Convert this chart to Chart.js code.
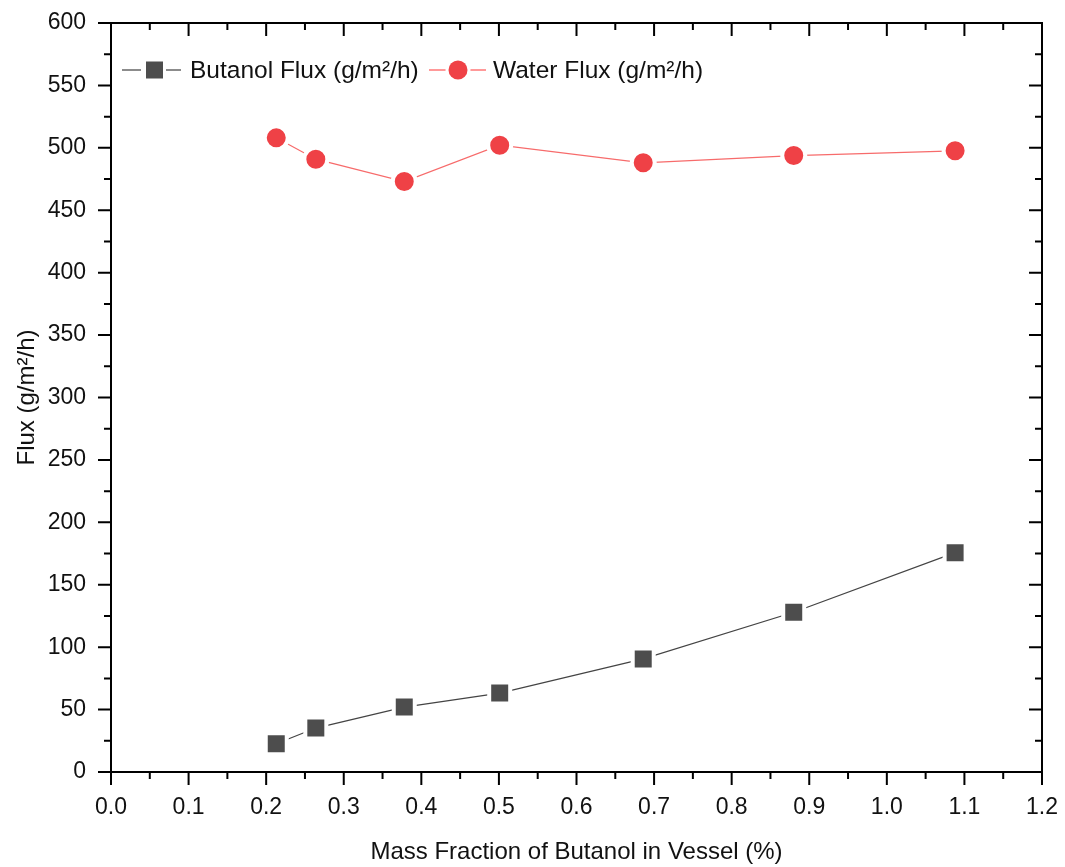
<!DOCTYPE html>
<html>
<head>
<meta charset="utf-8">
<script src="https://cdn.jsdelivr.net/npm/chart.js@4.4.0/dist/chart.umd.min.js"></script>
<style>
  html, body { margin: 0; padding: 0; background: #fff; }
  #wrap { width: 1065px; height: 867px; }
</style>
</head>
<body>
<div id="wrap"><canvas id="fluxChart" width="1065" height="867"></canvas></div>
<script>
// mass fraction of butanol in vessel (%)
const massFraction = [0.213, 0.264, 0.378, 0.501, 0.686, 0.880, 1.088];
// fluxes (g/m2/h)
const butanolFlux = [22.6, 35.2, 52.0, 63.2, 90.6, 128.0, 175.7];
const waterFlux = [508.0, 490.9, 473.0, 502.1, 488.0, 493.8, 497.6];
const seriesNames = ['Butanol Flux (g/m\u00B2/h)', 'Water Flux (g/m\u00B2/h)'];
const xTicks = [0, 0.1, 0.2, 0.3, 0.4, 0.5, 0.6, 0.7, 0.8, 0.9, 1.0, 1.1, 1.2];
const yTicks = [0, 50, 100, 150, 200, 250, 300, 350, 400, 450, 500, 550, 600];

const FONT = '"Liberation Sans", Arial, sans-serif';
const GREY = '#4d4d4d';
const RED = '#ef4146';

function toPoints(xs, ys) {
    return xs.map(function (x, i) { return { x: x, y: ys[i] }; });
}

// Origin-style frame: axes on all four sides with major/minor ticks
const framePlugin = {
    id: 'frame',
    afterDraw: function (chart) {
        const ctx = chart.ctx;
        const a = chart.chartArea;
        const xs = chart.scales.x;
        const ys = chart.scales.y;
        ctx.save();
        ctx.strokeStyle = '#000';
        ctx.lineWidth = 2;
        ctx.beginPath();
        ctx.rect(a.left, a.top, a.right - a.left, a.bottom - a.top);
        ctx.stroke();

        ctx.beginPath();
        for (let i = 0; i < xTicks.length; i++) {
            const px = xs.getPixelForValue(xTicks[i]);
            ctx.moveTo(px, a.bottom); ctx.lineTo(px, a.bottom + 13);
            ctx.moveTo(px, a.top); ctx.lineTo(px, a.top + 13);
            if (i < xTicks.length - 1) {
                const mx = xs.getPixelForValue(xTicks[i] + 0.05);
                ctx.moveTo(mx, a.bottom); ctx.lineTo(mx, a.bottom + 7);
                ctx.moveTo(mx, a.top); ctx.lineTo(mx, a.top + 7);
            }
        }
        for (let i = 0; i < yTicks.length; i++) {
            const py = ys.getPixelForValue(yTicks[i]);
            ctx.moveTo(a.left, py); ctx.lineTo(a.left - 13, py);
            ctx.moveTo(a.right, py); ctx.lineTo(a.right - 13, py);
            if (i < yTicks.length - 1) {
                const my = ys.getPixelForValue(yTicks[i] + 25);
                ctx.moveTo(a.left, my); ctx.lineTo(a.left - 7, my);
                ctx.moveTo(a.right, my); ctx.lineTo(a.right - 7, my);
            }
        }
        ctx.stroke();

        // legend, top-left inside the plot
        const ly = 70;
        ctx.lineWidth = 1.5;
        ctx.font = '24.5px ' + FONT;
        ctx.textBaseline = 'middle';
        ctx.textAlign = 'left';

        ctx.strokeStyle = '#666';
        ctx.beginPath();
        ctx.moveTo(122, ly); ctx.lineTo(181, ly);
        ctx.stroke();
        ctx.fillStyle = '#fff';
        ctx.fillRect(141, ly - 12.5, 25, 25);
        ctx.fillStyle = GREY;
        ctx.fillRect(146, ly - 8.5, 17, 17);
        ctx.fillStyle = '#111';
        ctx.fillText(seriesNames[0], 190, ly + 1);

        ctx.strokeStyle = '#f77';
        ctx.beginPath();
        ctx.moveTo(429, ly); ctx.lineTo(486, ly);
        ctx.stroke();
        ctx.fillStyle = '#fff';
        ctx.beginPath(); ctx.arc(458, ly, 12.5, 0, Math.PI * 2); ctx.fill();
        ctx.fillStyle = RED;
        ctx.beginPath(); ctx.arc(458, ly, 9.5, 0, Math.PI * 2); ctx.fill();
        ctx.fillStyle = '#111';
        ctx.fillText(seriesNames[1], 493, ly + 1);
        ctx.restore();
    }
};

const config = {
    type: 'line',
    data: {
        datasets: [
            {
                label: seriesNames[0],
                data: toPoints(massFraction, butanolFlux),
                borderColor: '#444',
                borderWidth: 1.2,
                pointStyle: 'rect',
                pointRadius: 14.85,
                pointBackgroundColor: GREY,
                pointBorderColor: '#fff',
                pointBorderWidth: 4,
                tension: 0
            },
            {
                label: seriesNames[1],
                data: toPoints(massFraction, waterFlux),
                borderColor: '#f76b6b',
                borderWidth: 1.2,
                pointStyle: 'circle',
                pointRadius: 11.5,
                pointBackgroundColor: RED,
                pointBorderColor: '#fff',
                pointBorderWidth: 4,
                tension: 0
            }
        ]
    },
    options: {
        responsive: false,
        animation: false,
        events: [],
        layout: { padding: { top: 23, right: 23, left: 0, bottom: 0 } },
        plugins: {
            legend: { display: false },
            tooltip: { enabled: false }
        },
        scales: {
            x: {
                type: 'linear',
                min: 0,
                max: 1.2,
                afterFit: function (s) {
                    s.height = 95;
                    s.paddingLeft = 0;
                    s.paddingRight = 0;
                },
                grid: { display: false, drawTicks: false },
                border: { display: false },
                ticks: {
                    stepSize: 0.1,
                    padding: 22,
                    color: '#111',
                    font: { family: FONT, size: 23 },
                    maxRotation: 0,
                    autoSkip: false,
                    callback: function (v) { return Number(v).toFixed(1); }
                },
                title: {
                    display: true,
                    text: 'Mass Fraction of Butanol in Vessel (%)',
                    color: '#111',
                    font: { family: FONT, size: 24 },
                    padding: { top: 0, bottom: 0 }
                }
            },
            y: {
                min: 0,
                max: 600,
                afterFit: function (s) {
                    s.width = 111;
                    s.paddingTop = 0;
                    s.paddingBottom = 0;
                },
                grid: { display: false, drawTicks: false },
                border: { display: false },
                ticks: {
                    stepSize: 50,
                    padding: 25,
                    color: '#111',
                    font: { family: FONT, size: 23 }
                },
                title: {
                    display: true,
                    text: 'Flux (g/m\u00B2/h)',
                    color: '#111',
                    font: { family: FONT, size: 24 },
                    padding: { top: 13, bottom: 0 }
                }
            }
        }
    },
    plugins: [framePlugin]
};

const ctx = document.getElementById('fluxChart').getContext('2d');
const fluxChart = new Chart(ctx, config);
</script>
</body>
</html>
